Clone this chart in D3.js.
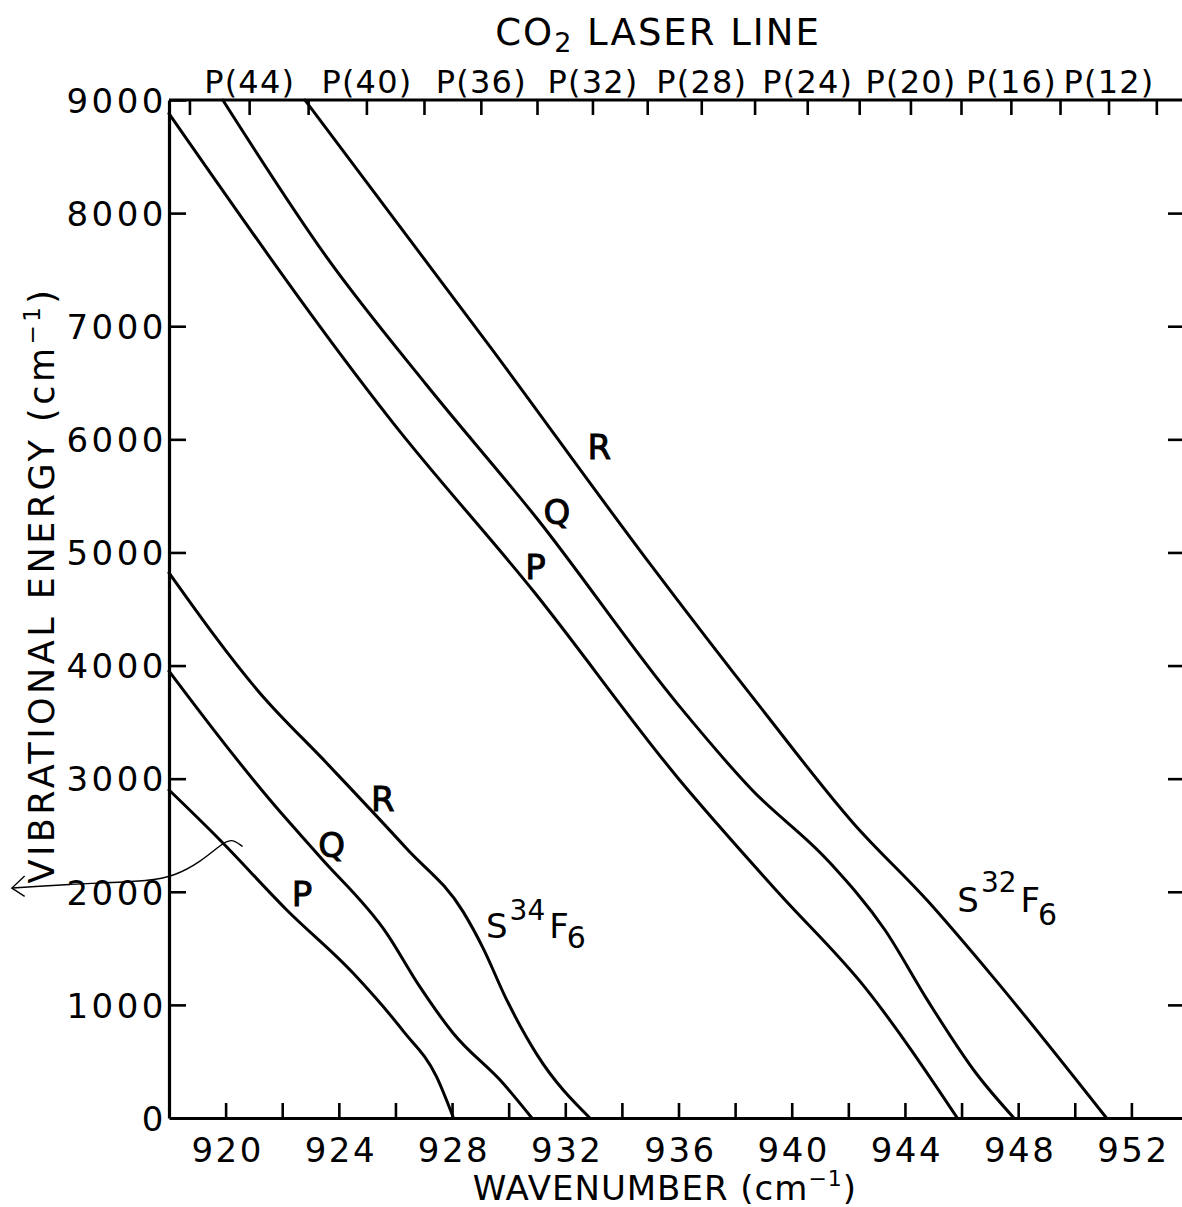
<!DOCTYPE html>
<html>
<head>
<meta charset="utf-8">
<script src="https://cdn.jsdelivr.net/npm/d3@7"></script>
<style>
  html, body { margin: 0; padding: 0; background: #fff; }
  svg { display: block; }
  text { font-family: "DejaVu Sans", sans-serif; fill: #000; }
</style>
</head>
<body>
<svg id="chart" width="1182" height="1207"></svg>
<script>
// Wavenumber ticks (cm^-1) on the bottom axis, labelled every 4
const wavenumberTicks = d3.range(920, 953, 2);
const wavenumberLabels = [920, 924, 928, 932, 936, 940, 944, 948, 952];

// Vibrational energy ticks (cm^-1)
const energyTicks = [0, 1000, 2000, 3000, 4000, 5000, 6000, 7000, 8000, 9000];

// CO2 laser 10.6 um band P-branch lines: rotational J and wavenumber (cm^-1)
const co2LineJ  = [46, 44, 42, 40, 38, 36, 34, 32, 30, 28, 26, 24, 22, 20, 18, 16, 14, 12, 10];
const co2LineNu = [918.722, 920.831, 922.915, 924.974, 927.008, 929.017, 931.001, 932.960,
                   934.895, 936.804, 938.688, 940.548, 942.383, 944.194, 945.980, 947.742,
                   949.479, 951.192, 952.881];
const co2Labelled = [44, 40, 36, 32, 28, 24, 20, 16, 12];

// S32F6 resonance curves: [wavenumber, vibrational energy]
const s32P = [[918.0, 8880], [925.9, 6150], [930.9, 4650], [936.0, 3000], [939.5, 2000],
              [942.6, 1150], [945.85, 0]];
const s32Q = [[919.9, 9000], [923.6, 7600], [927.1, 6480], [931.0, 5300], [936.0, 3650],
              [938.6, 2900], [941.3, 2270], [943.3, 1660], [944.8, 1040], [946.5, 400],
              [947.85, 0]];
const s32R = [[922.8, 9000], [929.4, 6800], [934.9, 4930], [938.9, 3630], [942.2, 2600],
              [944.8, 1920], [947.1, 1250], [951.12, 0]];

// S34F6 resonance curves
const s34P = [[918.0, 2900], [919.8, 2458], [922.16, 1839], [924.51, 1279], [926.27, 770],
              [927.45, 365], [928.05, 0]];
const s34Q = [[918.0, 3950], [920.04, 3283], [921.57, 2811], [923.33, 2310], [925.69, 1633],
              [926.86, 1161], [928.04, 749], [929.8, 307], [930.82, 0]];
const s34R = [[918.0, 4820], [921.2, 3760], [923.6, 3130], [926.4, 2380], [928.4, 1820],
              [929.1, 1500], [929.9, 1060], [931.0, 560], [932.87, 0]];

// Branch letters placed beside the curves: [letter, wavenumber, energy]
const s32Branches = [["R", 933.2, 5930], ["Q", 931.7, 5360], ["P", 930.95, 4870]];
const s34Branches = [["R", 925.55, 2820], ["Q", 923.75, 2420], ["P", 922.7, 1980]];

// Pen note drawn across the energy axis near 2000 cm^-1
const penNote = [[912.45, 2033], [913.4, 2048], [914.5, 2066], [915.6, 2078], [917.3, 2095],
                 [918.2, 2140], [919.1, 2263], [919.8, 2410], [920.2, 2476], [920.6, 2400]];

const svg = d3.select("#chart");

const x = d3.scaleLinear().domain([918, 954]).range([169, 1188]);
const y = d3.scaleLinear().domain([0, 9000]).range([1118, 100]);

// ---- axes ----
function styleAxis(g, lineW, tickW) {
  g.select(".domain").attr("stroke", "#000").attr("stroke-width", lineW);
  g.selectAll(".tick line").attr("stroke", "#000").attr("stroke-width", tickW);
  g.selectAll(".tick text").attr("fill", "#000");
}

const axisB = svg.append("g")
  .attr("transform", `translate(0,${y(0)})`)
  .call(d3.axisBottom(x).tickValues(wavenumberTicks).tickSizeInner(-15).tickSizeOuter(0)
        .tickPadding(0)
        .tickFormat(d => wavenumberLabels.includes(d) ? String(d) : ""));
styleAxis(axisB, 3.2, 2.6);
axisB.selectAll(".tick text").attr("font-size", 34).attr("y", 44).attr("dy", null)
  .attr("letter-spacing", 2.5).attr("dx", 1.5);

const axisL = svg.append("g")
  .attr("transform", `translate(${x(918)},0)`)
  .call(d3.axisLeft(y).tickValues(energyTicks).tickSizeInner(-17).tickSizeOuter(0)
        .tickPadding(2).tickFormat(d => String(d)));
styleAxis(axisL, 3.2, 2.6);
axisL.selectAll(".tick text").attr("font-size", 34).attr("dy", "0.36em")
  .attr("letter-spacing", 3.5);
axisL.selectAll(".tick").filter(d => d === 0).select("line").remove();

const axisR = svg.append("g")
  .attr("transform", `translate(${x(954)},0)`)
  .call(d3.axisRight(y).tickValues(energyTicks.filter(d => d > 0 && d < 9000))
        .tickSizeInner(-20).tickSizeOuter(0).tickFormat(""));
styleAxis(axisR, 3.2, 2.6);

const lineByNu = new Map(co2LineNu.map((nu, i) => [nu, co2LineJ[i]]));
const axisT = svg.append("g")
  .attr("transform", `translate(0,${y(9000)})`)
  .call(d3.axisTop(x).tickValues(co2LineNu).tickSizeInner(-15).tickSizeOuter(0)
        .tickPadding(7)
        .tickFormat(nu => co2Labelled.includes(lineByNu.get(nu)) ? `P(${lineByNu.get(nu)})` : ""));
styleAxis(axisT, 3.2, 2.6);
axisT.select(".domain").attr("d", `M${x(918)},0H${x(954)}`);
axisT.selectAll(".tick text").attr("font-size", 32).attr("letter-spacing", 1.2);

// ---- axis titles ----
const title = svg.append("text")
  .attr("x", 658).attr("y", 45)
  .attr("text-anchor", "middle").attr("font-size", 37).attr("letter-spacing", 2);
title.append("tspan").text("CO");
title.append("tspan").attr("font-size", 27).attr("dy", 7).text("2");
title.append("tspan").attr("dy", -7).text(" LASER LINE");

const xTitle = svg.append("text")
  .attr("x", 665).attr("y", 1200)
  .attr("text-anchor", "middle").attr("font-size", 34).attr("letter-spacing", 1);
xTitle.append("tspan").text("WAVENUMBER (cm");
xTitle.append("tspan").attr("font-size", 22).attr("dy", -14).text("−1");
xTitle.append("tspan").attr("dy", 14).text(")");

const yTitle = svg.append("text")
  .attr("transform", "translate(54,585) rotate(-90)")
  .attr("text-anchor", "middle").attr("font-size", 35).attr("letter-spacing", 3.5);
yTitle.append("tspan").text("VIBRATIONAL  ENERGY (cm");
yTitle.append("tspan").attr("font-size", 23).attr("dy", -14).text("−1");
yTitle.append("tspan").attr("dy", 14).text(")");

// ---- curves ----
const line = d3.line().x(d => x(d[0])).y(d => y(d[1])).curve(d3.curveMonotoneX);

[s32P, s32Q, s32R, s34P, s34Q, s34R].forEach(series => {
  svg.append("path").datum(series)
    .attr("d", line)
    .attr("fill", "none").attr("stroke", "#000").attr("stroke-width", 3)
    .attr("stroke-linejoin", "round").attr("stroke-linecap", "round");
});

// ---- branch letters ----
[...s32Branches, ...s34Branches].forEach(([letter, nu, e]) => {
  svg.append("text")
    .attr("x", x(nu)).attr("y", y(e)).attr("dy", "0.36em")
    .attr("text-anchor", "middle").attr("font-size", 34)
    .attr("stroke", "#000").attr("stroke-width", 0.9)
    .text(letter);
});

// ---- isotope labels ----
function isotopeLabel(nu, e, mass, supUp, subDown) {
  const t = svg.append("text").attr("x", x(nu)).attr("y", y(e)).attr("font-size", 34);
  t.append("tspan").text("S");
  t.append("tspan").attr("font-size", 28).attr("dy", -supUp).attr("dx", 2).text(mass);
  t.append("tspan").attr("dy", supUp).attr("dx", 4).text("F");
  t.append("tspan").attr("font-size", 30).attr("dy", subDown).attr("dx", -2).text("6");
}
isotopeLabel(929.2, 1590, "34", 18, 10);
isotopeLabel(945.85, 1820, "32", 20, 13);

// ---- pen note ----
svg.append("path").datum(penNote)
  .attr("d", d3.line().x(d => x(d[0])).y(d => y(d[1])).curve(d3.curveBasis))
  .attr("fill", "none").attr("stroke", "#000").attr("stroke-width", 1.4);
svg.append("path").datum([[912.9, 2140], [912.45, 2033], [912.9, 1960]])
  .attr("d", d3.line().x(d => x(d[0])).y(d => y(d[1])))
  .attr("fill", "none").attr("stroke", "#000").attr("stroke-width", 1.4);
</script>
</body>
</html>
